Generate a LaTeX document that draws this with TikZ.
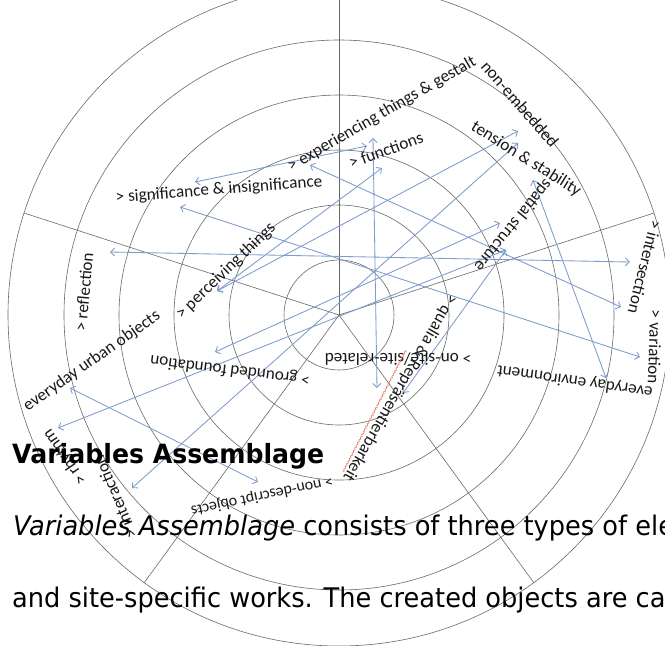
\documentclass[tikz,border=0pt]{standalone}
\usepackage{fontspec}
\newfontfamily\calfont{Carlito}
\newfontfamily\tahfont[FakeStretch=0.95]{DejaVu Sans}
\usetikzlibrary{arrows.meta,decorations.pathmorphing}
\definecolor{ringgray}{RGB}{105,105,105}
\definecolor{arrowblue}{RGB}{125,155,205}
\definecolor{labtext}{RGB}{25,25,25}
\definecolor{spellred}{RGB}{230,120,100}
\begin{document}
\begin{tikzpicture}[x=1pt,y=-1pt,
  ring/.style={draw=ringgray,line width=0.6pt},
  spoke/.style={draw=ringgray,line width=0.6pt},
  lab/.style={font=\calfont\fontsize{17.2}{19}\selectfont,text=labtext,inner sep=0pt},
  link/.style={draw=arrowblue,line width=0.85pt,{Straight Barb[length=4pt,width=8pt]}-{Straight Barb[length=4pt,width=8pt]}},
  body/.style={font=\tahfont\fontsize{27}{30}\selectfont,inner sep=0pt,anchor=base west,text=black}
]
\useasboundingbox (0,0) rectangle (665,646);
\fill[white] (0,0) rectangle (665,646);
\clip (0,0) rectangle (665,646);

% rings and spokes
\coordinate (C) at (339,315);
\foreach \r in {55,110,165,220,275,331} \draw[ring] (C) circle[radius=\r pt];
\coordinate (s1) at (339,-20);
\coordinate (s2) at (654,213);
\coordinate (s3) at (24,213);
\coordinate (s4) at (534,583);
\coordinate (s5) at (144,583);
\foreach \s in {s1,s2,s3,s4,s5} \draw[spoke] (C) -- (\s);

% arrow end points
\coordinate (p1) at (195,182);
\coordinate (p2) at (180,207);
\coordinate (p3) at (110,252);
\coordinate (p4) at (217,291);
\coordinate (p5) at (215,352);
\coordinate (p6) at (70,388);
\coordinate (p7) at (58,428);
\coordinate (p8) at (132,488);
\coordinate (p9) at (258,482);
\coordinate (p10) at (377,388);
\coordinate (p11) at (403,393);
\coordinate (p12) at (606,378);
\coordinate (p13) at (640,357);
\coordinate (p14) at (621,307);
\coordinate (p15) at (630,262);
\coordinate (p16) at (500,223);
\coordinate (p17) at (506,250);
\coordinate (p18) at (533,180);
\coordinate (p19) at (518,131);
\coordinate (p20) at (518,143);
\coordinate (p21) at (367,146);
\coordinate (p22) at (373,138);
\coordinate (p23) at (382,168);
\coordinate (p24) at (310,165);

\draw[link] (p1) -- (p21);
\draw[link] (p2) -- (p13);
\draw[link] (p3) -- (p15);
\draw[link] (p4) -- (p19);
\draw[link] (p4) -- (p23);
\draw[link] (p5) -- (p16);
\draw[link] (p6) -- (p9);
\draw[link] (p7) -- (p17);
\draw[link] (p8) -- (p20);
\draw[link] (p10) -- (p22);
\draw[link] (p11) -- (p17);
\draw[link] (p12) -- (p18);
\draw[link] (p14) -- (p24);

% labels
\node[lab,rotate=4.5] (signif) at (219,190) {> significance \& insignificance};
\node[lab,rotate=30] (exper) at (382,114) {> experiencing things \& gestalt};
\node[lab,rotate=20] (funct) at (386,150) {> functions};
\node[lab,rotate=-49] (nonemb) at (520,104) {non-embedded};
\node[lab,rotate=-32] (tension) at (526,159) {tension \& stability};
\node[lab,rotate=-129] (spatial) at (513,225) {spatial structure};
\node[lab,rotate=-104] (inters) at (645,267) {> intersection};
\node[lab,rotate=-92] (variat) at (655,347) {> variation};
\node[lab,rotate=172] (everenv) at (575,381) {everyday environment};
\node[lab,rotate=180] (onsite) at (398,359) {> on-site/site-related};
\node[lab,rotate=173] (grounded) at (230,370) {> grounded foundation};
\node[lab,rotate=44] (perceiv) at (226,271) {> perceiving things};
\node[lab,rotate=35] (everurb) at (92,361) {everyday urban objects};
\node[lab,rotate=85] (reflect) at (84,292) {> reflection};
\node[lab,rotate=125] (rhythm) at (65,457) {> rhythm};
\node[lab,rotate=113] (interact) at (115,497) {> interaction};
\node[lab,rotate=192,font=\calfont\fontsize{16}{18}\selectfont] (nondesc) at (262,496) {> non-descript objects};
\node[lab,rotate=-120] (qualia) at (400,388) {> qualia \& Repräsentierbarkeit};
\coordinate (red1) at (406,350);
\coordinate (red2) at (343,472);
\draw[spellred,line width=0.6pt,decorate,decoration={snake,amplitude=0.7pt,segment length=3pt}] (red1) -- (red2);

% body text
\node[body,font=\tahfont\bfseries\fontsize{26.5}{30}\selectfont] (title) at (12,463) {Variables Assemblage};
\node[body] (line1) at (13,535) {\itshape Variables Assemblage\upshape{} consists of three types of ele};
\node[body] (line2) at (12,607) {and site-specific works. The created objects are ca};
\end{tikzpicture}
\end{document}
